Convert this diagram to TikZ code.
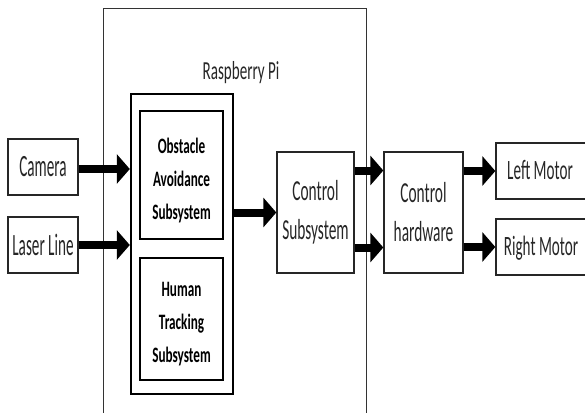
\documentclass[tikz,border=0pt]{standalone}
\usepackage{fontspec}
\setmainfont[FakeStretch=0.53]{Carlito}
\newfontfamily\camfont[FakeStretch=0.49]{Carlito}
\newfontfamily\ctlfont[FakeStretch=0.53]{Carlito}
\newfontfamily\motfont[FakeStretch=0.54]{Carlito}
\newfontfamily\rpifont[FakeStretch=0.58]{Carlito}
\newfontfamily\subfont[FakeStretch=0.6]{Carlito Bold}
\usetikzlibrary{arrows.meta}
\begin{document}
\begin{tikzpicture}[x=1pt,y=-1pt,
  box/.style={draw=black!85, line width=1.3pt, inner sep=0pt, align=center, text=black!85},
  thickbox/.style={draw=black, line width=2.4pt, inner sep=0pt},
  txt/.style={inner sep=0pt, align=center, text=black!85},
  boldtxt/.style={inner sep=0pt, align=center, text=black, font=\subfont\fontsize{22}{33}\selectfont},
  arr/.style={draw=black, line width=8pt, -{Triangle[length=13pt,width=29pt]}}]
\useasboundingbox (0,0) rectangle (585,412);
\clip (0,0) rectangle (585,412);
% Raspberry Pi container
\node[draw=black!80, line width=0.9pt, minimum width=263pt, minimum height=412pt, inner sep=0pt] (rpi) at (234.5,214) {};
\node[txt, font=\rpifont\fontsize{26}{30}\selectfont] (rpilabel) at (241,73) {Raspberry Pi};
% subsystem group
\node[thickbox, minimum width=102pt, minimum height=300pt] (outer) at (182,244) {};
\node[thickbox, minimum width=83pt, minimum height=128pt] (oa) at (181.5,175) {};
\node[boldtxt] (oat) at (181.5,180.5) {Obstacle\\Avoidance\\Subsystem};
\node[thickbox, minimum width=83pt, minimum height=122pt] (ht) at (181.5,319) {};
\node[boldtxt] (htt) at (181.5,324.5) {Human\\Tracking\\Subsystem};
% inputs
\node[box, minimum width=70pt, minimum height=56pt, font=\camfont\fontsize{31}{36}\selectfont] (cam) at (43,167) {Camera};
\node[box, minimum width=70pt, minimum height=56pt, font=\camfont\fontsize{31}{36}\selectfont] (laser) at (43,245) {Laser Line};
% control
\node[box, minimum width=77pt, minimum height=121pt, font=\ctlfont\fontsize{29}{39}\selectfont] (cs) at (315.5,212.5) {Control\\Subsystem};
\node[box, minimum width=79pt, minimum height=121pt, font=\ctlfont\fontsize{29}{39}\selectfont] (ch) at (423.5,212.5) {Control\\hardware};
% motors
\node[box, minimum width=104pt, minimum height=56pt] (lm) at (548,171) {};
\node[txt, font=\motfont\fontsize{28}{34}\selectfont] (lmt) at (540,170) {Left Motor};
\node[box, minimum width=104pt, minimum height=56pt] (rm) at (548,247) {};
\node[txt, font=\motfont\fontsize{28}{34}\selectfont] (rmt) at (541,248) {Right Motor};
% arrows
\draw[arr] ([yshift=-2pt]cam.east) -- ([yshift=-2pt]cam.east -| outer.west);
\draw[arr] (laser.east) -- (laser.east -| outer.west);
\draw[arr] (outer.east |- cs.west) -- (cs.west);
\draw[arr] ([yshift=42pt]cs.east) -- ([yshift=42pt]ch.west);
\draw[arr] ([yshift=-35pt]cs.east) -- ([yshift=-35pt]ch.west);
\draw[arr] (ch.east |- lm.west) -- (lm.west);
\draw[arr] (ch.east |- rm.west) -- (rm.west);
\end{tikzpicture}
\end{document}
